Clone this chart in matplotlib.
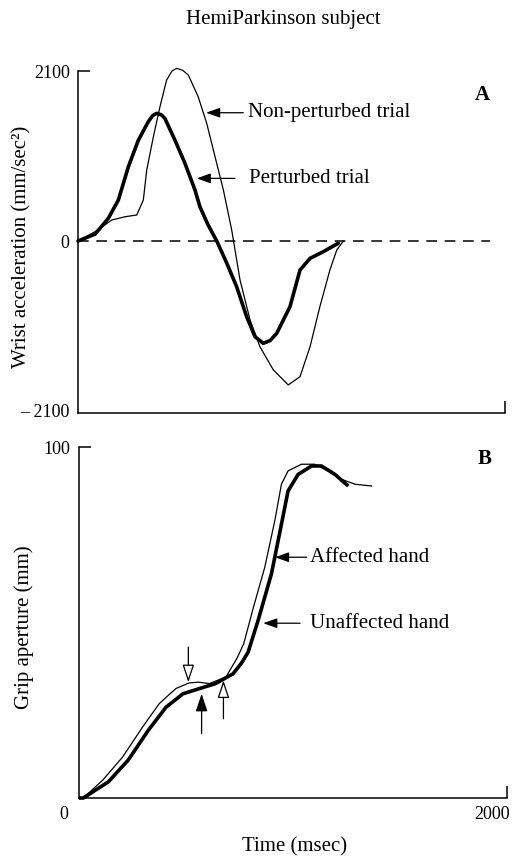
import matplotlib
matplotlib.use("Agg")
import matplotlib.pyplot as plt

plt.rcParams['font.family'] = ['Liberation Serif', 'DejaVu Serif']

# Panel A: wrist acceleration (mm/sec^2) vs time (msec)
accel_t_nonpert = [0, 80, 158, 220, 275, 306, 322, 353, 384, 415, 440, 462, 490, 517, 563,
                   603, 642, 681, 720, 759, 806, 852, 915, 985, 1040, 1087, 1133, 1180, 1212, 1243]
accel_nonpert = [0, 115, 259, 300, 321, 506, 877, 1288, 1659, 1988, 2100, 2133, 2110, 2050, 1782,
                 1453, 1041, 630, 136, -482, -976, -1305, -1593, -1778, -1676, -1305, -811, -358, -111, 0]

accel_t_pert = [0, 80, 142, 189, 236, 283, 329, 350, 369, 390, 407, 454, 501, 548, 571, 609, 650, 697,
                743, 790, 829, 868, 900, 931, 993, 1040, 1087, 1149, 1219]
accel_pert = [0, 85, 280, 506, 918, 1247, 1473, 1550, 1577, 1560, 1515, 1247, 960, 630, 424, 200, 0, -275,
              -564, -935, -1182, -1264, -1230, -1140, -811, -358, -214, -132, -28]

# Panel B: grip aperture (mm) vs time (msec)
grip_t_unaff = [0, 20, 111, 204, 298, 375, 453, 515, 560, 609, 687, 740, 770, 815, 868, 915,
                946, 977, 1040, 1102, 1164, 1227, 1290, 1367]
grip_unaff = [0, 0, 5.1, 11.7, 20.3, 26.9, 31.2, 32.8, 33.0, 32.6, 34.5, 40, 44, 54.3, 65.7, 79,
              89.4, 93.2, 95.1, 95.1, 93.2, 90.8, 89.4, 88.9]

grip_t_aff = [0, 20, 137, 230, 324, 407, 486, 564, 638, 720, 760, 790, 837, 899, 946, 977,
              1024, 1087, 1133, 1196, 1258]
grip_aff = [0, 0, 4.6, 10.8, 19.3, 25.9, 29.7, 31.2, 32.6, 35.4, 38.5, 41.5, 50.6, 63.8, 78,
            87.5, 92.2, 94.6, 94.6, 92.2, 88.9]

# vertical marker arrows in B: (time, tail, tip, filled)
marker_arrows = [(511, 43, 33, False), (573, 18.4, 29.7, True), (675, 22.6, 33.5, False)]

FS = 15     # labels
TFS = 13    # tick labels
fig = plt.figure(figsize=(5.27, 8.59), dpi=100)

# ---------------- Panel A ----------------
axA = fig.add_axes([0.148, 0.5192, 0.8102, 0.3981])
axA.plot(accel_t_nonpert, accel_nonpert, color='k', lw=0.9, clip_on=False, solid_joinstyle='round')
axA.plot(accel_t_pert, accel_pert, color='k', lw=2.6, clip_on=False,
         solid_capstyle='round', solid_joinstyle='round')
axA.axhline(0, xmin=0, xmax=1930 / 2000, color='k', lw=1.1, linestyle=(0, (7, 5)))
axA.set_xlim(0, 2000)
axA.set_ylim(-2125, 2100)

axA.set_yticks([2100], ['2100'])
axA.set_yticks([-2100, 0], ['\u2013 2100', '0'], minor=True)
axA.set_xticks([2000], [''])
axA.tick_params(which='major', direction='in', length=8.5, width=1.1, labelsize=TFS, pad=6)
axA.tick_params(which='minor', length=0, labelsize=TFS, pad=6)

for s in ['top', 'right']:
    axA.spines[s].set_visible(False)
for s in ['left', 'bottom']:
    axA.spines[s].set_linewidth(1.1)

arrow_kw = dict(arrowstyle='-|>,head_length=0.7,head_width=0.25', color='k', lw=0.9,
                mutation_scale=12, shrinkA=0, shrinkB=0)
axA.annotate('', xy=(600, 1585), xytext=(774, 1585), arrowprops=arrow_kw)
axA.text(797, 1585, 'Non-perturbed trial', fontsize=FS, va='center', ha='left')
axA.annotate('', xy=(556, 774), xytext=(735, 774), arrowprops=arrow_kw)
axA.text(802, 774, 'Perturbed trial', fontsize=FS, va='center', ha='left')
axA.text(1892, 1803, 'A', fontsize=15, fontweight='bold', va='center', ha='center')

# ---------------- Panel B ----------------
axB = fig.add_axes([0.1499, 0.0710, 0.8121, 0.4086])
axB.plot(grip_t_unaff, grip_unaff, color='k', lw=0.9, clip_on=False, solid_joinstyle='round')
axB.plot(grip_t_aff, grip_aff, color='k', lw=2.6, clip_on=False,
         solid_capstyle='butt', solid_joinstyle='round')
axB.set_xlim(0, 2000)
axB.set_ylim(0, 100)

axB.set_yticks([100], ['100'])
axB.set_xticks([2000], [''])
axB.tick_params(which='major', direction='in', length=8.5, width=1.1, labelsize=TFS, pad=6)
axB.annotate('0', xy=(0, 0), xytext=(-8, -6), textcoords='offset points',
             ha='right', va='top', fontsize=TFS)
axB.annotate('2000', xy=(2000, 0), xytext=(2, -6), textcoords='offset points',
             ha='right', va='top', fontsize=TFS)

for s in ['top', 'right']:
    axB.spines[s].set_visible(False)
for s in ['left', 'bottom']:
    axB.spines[s].set_linewidth(1.1)

axB.annotate('', xy=(916, 68.6), xytext=(1064, 68.6), arrowprops=arrow_kw)
axB.text(1079, 68.6, 'Affected hand', fontsize=FS, va='center', ha='left')
axB.annotate('', xy=(861, 49.8), xytext=(1033, 49.8), arrowprops=arrow_kw)
axB.text(1079, 49.8, 'Unaffected hand', fontsize=FS, va='center', ha='left')
axB.text(1897, 96.6, 'B', fontsize=15, fontweight='bold', va='center', ha='center')

for x, tail, tip, filled in marker_arrows:
    axB.annotate('', xy=(x, tip), xytext=(x, tail),
                 arrowprops=dict(arrowstyle='-|>,head_length=0.9,head_width=0.3',
                                 lw=0.9, mutation_scale=12, shrinkA=0, shrinkB=0,
                                 facecolor='k' if filled else 'white', edgecolor='k'))

# ---------------- Figure labels ----------------
fig.text(0.537, 0.977, 'HemiParkinson subject', fontsize=FS, ha='center', va='center')
fig.text(0.042, 0.7125, 'Wrist acceleration (mm/sec\u00b2)', fontsize=FS, rotation=90,
         ha='center', va='center')
fig.text(0.0455, 0.27, 'Grip aperture (mm)', fontsize=FS, rotation=90,
         ha='center', va='center')
fig.text(0.558, 0.003, 'Time (msec)', fontsize=FS, ha='center', va='bottom')

fig.savefig('out.png', dpi=100)
